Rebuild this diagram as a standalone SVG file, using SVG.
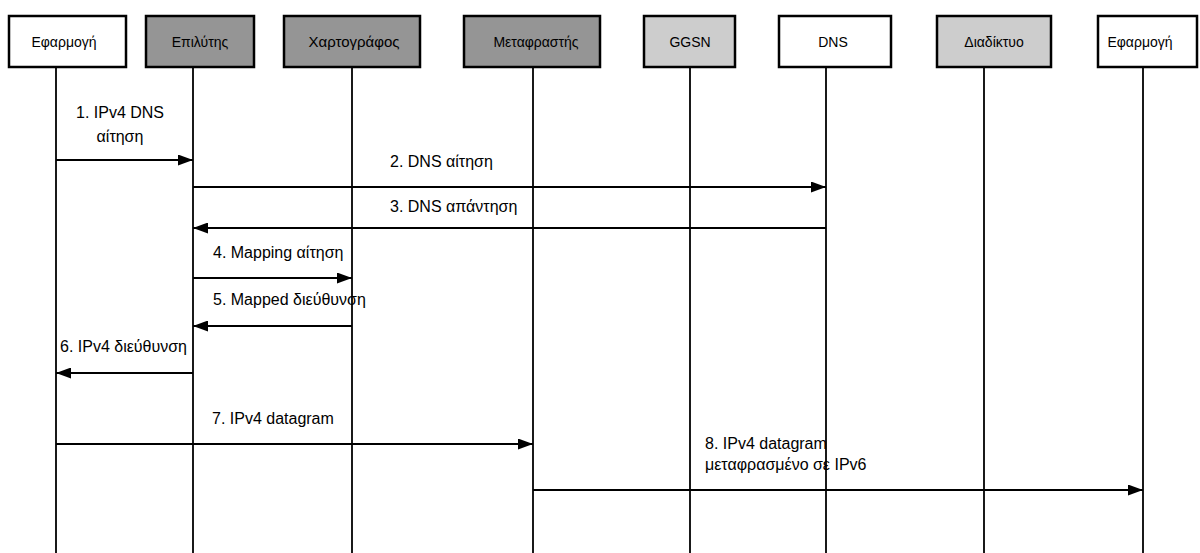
<svg xmlns="http://www.w3.org/2000/svg" width="1200" height="553" viewBox="0 0 1200 553">
<style>
.box{stroke:#000;stroke-width:2.5}
.w{fill:#fff}
.d{fill:#959595}
.l{fill:#cdcdcd}
.hd{font-family:"Liberation Sans",Arial,sans-serif;font-size:14px;fill:#000;text-anchor:middle}
.life{stroke:#000;stroke-width:1.8}
.msg{stroke:#000;stroke-width:2.2;fill:none}
.lb{font-family:"Liberation Sans",Arial,sans-serif;font-size:16px;fill:#000}
</style>
<defs>
<marker id="ah" viewBox="0 0 15 11" refX="15" refY="5.5" markerWidth="15" markerHeight="11" markerUnits="userSpaceOnUse" orient="auto">
<path d="M0,0 L15,5.5 L0,11 z" fill="#000"/>
</marker>
</defs>
<rect width="1200" height="553" fill="#fff"/>
<g id="lifelines">
<line class="life" x1="56" y1="67" x2="56" y2="553"/>
<line class="life" x1="193" y1="67" x2="193" y2="553"/>
<line class="life" x1="352" y1="67" x2="352" y2="553"/>
<line class="life" x1="533" y1="67" x2="533" y2="553"/>
<line class="life" x1="690" y1="67" x2="690" y2="553"/>
<line class="life" x1="826" y1="67" x2="826" y2="553"/>
<line class="life" x1="984" y1="67" x2="984" y2="553"/>
<line class="life" x1="1143" y1="67" x2="1143" y2="553"/>
</g>
<g id="n1"><rect class="box w" x="9" y="16" width="117" height="51"/><text class="hd" x="64" y="47">Εφαρμογή</text></g>
<g id="n2"><rect class="box d" x="146" y="16" width="108" height="51"/><text class="hd" x="200" y="47">Επιλύτης</text></g>
<g id="n3"><rect class="box d" x="284" y="16" width="136" height="51"/><text class="hd" x="354" y="47" style="font-size:15px">Χαρτογράφος</text></g>
<g id="n4"><rect class="box d" x="464" y="16" width="136" height="51"/><text class="hd" x="536" y="47">Μεταφραστής</text></g>
<g id="n5"><rect class="box l" x="644" y="16" width="91" height="51"/><text class="hd" x="690" y="47">GGSN</text></g>
<g id="n6"><rect class="box w" x="779" y="16" width="112" height="51"/><text class="hd" x="833" y="47">DNS</text></g>
<g id="n7"><rect class="box l" x="937" y="16" width="114" height="51"/><text class="hd" x="994" y="47">Διαδίκτυο</text></g>
<g id="n8"><rect class="box w" x="1098" y="16" width="99" height="51"/><text class="hd" x="1140" y="47">Εφαρμογή</text></g>
<g id="connectors">
<line class="msg" x1="56" y1="160" x2="193" y2="160" marker-end="url(#ah)"/>
<line class="msg" x1="193" y1="187" x2="826" y2="187" marker-end="url(#ah)"/>
<line class="msg" x1="826" y1="228" x2="193" y2="228" marker-end="url(#ah)"/>
<line class="msg" x1="193" y1="278" x2="352" y2="278" marker-end="url(#ah)"/>
<line class="msg" x1="352" y1="326" x2="193" y2="326" marker-end="url(#ah)"/>
<line class="msg" x1="193" y1="373" x2="56" y2="373" marker-end="url(#ah)"/>
<line class="msg" x1="56" y1="444" x2="533" y2="444" marker-end="url(#ah)"/>
<line class="msg" x1="533" y1="490" x2="1143" y2="490" marker-end="url(#ah)"/>
</g>
<g id="labels">
<text class="lb" x="120" y="118" text-anchor="middle">1. IPv4 DNS</text>
<text class="lb" x="120" y="142" text-anchor="middle">αίτηση</text>
<text class="lb" x="390" y="167">2. DNS αίτηση</text>
<text class="lb" x="390" y="212">3. DNS απάντηση</text>
<text class="lb" x="213" y="258">4. Mapping αίτηση</text>
<text class="lb" x="213" y="305">5. Mapped διεύθυνση</text>
<text class="lb" x="60" y="352">6. IPv4 διεύθυνση</text>
<text class="lb" x="212" y="424">7. IPv4 datagram</text>
<text class="lb" x="705" y="449">8. IPv4 datagram</text>
<text class="lb" x="705" y="470">μεταφρασμένο σε IPv6</text>
</g>
</svg>
